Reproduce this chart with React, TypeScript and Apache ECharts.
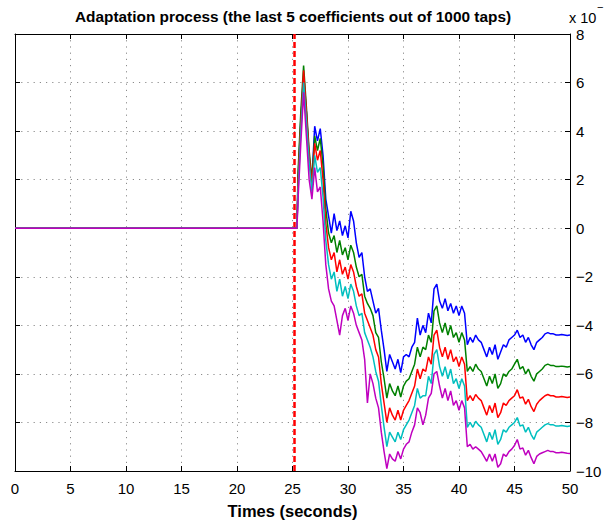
import React, { useEffect, useRef } from "react";
import * as echarts from "echarts";

// ---- data ----
const times = [
  0, 25.4,
  25.5, 25.75, 26.0, 26.25, 26.5, 26.75, 27.0, 27.25,
  27.5, 27.75, 28.0, 28.25, 28.5, 28.75, 29.0, 29.25, 29.5, 29.75,
  30.0, 30.25, 30.5, 30.75, 31.0, 31.25, 31.5, 31.75, 32.0, 32.25,
  32.5, 32.75, 33.0, 33.25, 33.5, 33.75, 34.0, 34.25, 34.5, 34.75,
  35.0, 35.25, 35.5, 35.75, 36.0, 36.25, 36.5, 36.75, 37.0, 37.25,
  37.5, 37.75, 38.0, 38.25, 38.5, 38.75, 39.0, 39.25, 39.5, 39.75,
  40.0, 40.25, 40.5, 40.75, 41.0, 41.25, 41.5, 41.75, 42.0, 42.25,
  42.5, 42.75, 43.0, 43.25, 43.5, 43.75, 44.0, 44.25, 44.5, 44.75,
  45.0, 45.25, 45.5, 45.75, 46.0, 46.25, 46.5, 46.75, 47.0, 47.25,
  47.5, 47.75, 48.0, 48.25, 48.5, 48.75, 49.0, 49.25, 49.5, 49.75,
  50.0,
];

const blueValues = [
  0, 0,
  2.0, 4.5, 6.2, 4.8, 2.8, 2.0, 4.2, 3.6,
  4.1, 3.0, 1.2, 0.5, -0.2, 0.6, -0.1, 0.3, -0.3, 0.1,
  -0.4, 0.7, 0.3, -0.6, -1.2, -1.0, -2.0, -2.6, -2.5, -3.0,
  -3.5, -3.3, -4.2, -5.0, -5.9, -5.2, -5.5, -5.8, -5.4, -5.95,
  -5.3, -5.2, -5.3, -4.9, -4.7, -3.7, -4.4, -4.0, -4.3, -3.5,
  -3.9, -2.5, -2.3, -3.0, -3.3, -2.9, -3.4, -3.1, -3.5, -3.2,
  -3.6, -3.2, -3.5, -4.8, -4.5, -4.7, -4.4, -4.6, -4.7, -5.0,
  -5.3, -4.9, -5.2, -4.8, -5.4, -5.1, -4.8, -4.9, -4.6, -4.5,
  -4.4, -4.2, -4.5, -4.4, -4.7, -4.5, -4.8, -5.0, -4.7, -4.6,
  -4.5, -4.35, -4.3, -4.35, -4.35, -4.4, -4.4, -4.38, -4.4, -4.42,
  -4.4,
];

const greenValues = [
  0, 0,
  2.3, 4.8, 6.7, 5.0, 3.2, 2.0, 3.8, 3.2,
  3.7, 2.6, 0.8, -0.2, -0.6, -0.3, -1.0, -0.5, -1.1, -0.8,
  -1.3, -0.7, -1.0, -1.6, -2.0, -1.9, -2.8, -3.1, -3.3, -3.6,
  -4.3, -4.5, -5.5, -6.2, -7.0, -6.4, -6.7, -6.9, -6.5, -6.95,
  -6.5, -6.3, -6.2, -5.9, -5.6, -4.9, -5.3, -4.9, -5.0, -4.4,
  -4.7, -3.4, -3.2, -3.9, -4.3, -3.9, -4.4, -4.0, -4.5, -4.3,
  -4.7, -4.3, -4.6, -5.9, -5.7, -5.9, -5.6, -5.8, -5.9, -6.2,
  -6.5, -6.1, -6.4, -6.0, -6.6, -6.4, -6.0, -6.1, -5.9, -5.8,
  -5.6, -5.4, -5.8, -5.7, -6.0, -5.8, -6.1, -6.3, -6.0, -5.9,
  -5.8, -5.65, -5.6, -5.65, -5.65, -5.7, -5.7, -5.68, -5.7, -5.72,
  -5.7,
];

const redValues = [
  0, 0,
  1.8, 4.3, 6.5, 4.8, 3.0, 1.8, 3.5, 2.8,
  3.2, 2.0, 0.2, -0.8, -1.3, -1.0, -1.8, -1.3, -1.9, -1.6,
  -2.1, -1.5, -1.8, -2.4, -2.8, -2.7, -3.5, -3.8, -4.1, -4.4,
  -5.0, -5.3, -6.4, -7.2, -8.0, -7.4, -7.7, -7.9, -7.5, -7.9,
  -7.5, -7.3, -7.1, -6.8, -6.5, -5.8, -6.2, -5.8, -5.9, -5.3,
  -5.6, -4.4, -4.2, -4.9, -5.3, -4.9, -5.4, -5.0, -5.5, -5.3,
  -5.7, -5.3, -5.6, -7.1, -6.9, -7.1, -6.85, -7.0, -7.1, -7.4,
  -7.7, -7.3, -7.6, -7.2, -7.8, -7.6, -7.2, -7.3, -7.1, -7.0,
  -6.9, -6.65, -7.0, -6.95, -7.25, -7.05, -7.35, -7.55, -7.25, -7.1,
  -7.0, -6.9, -6.85, -6.9, -6.9, -6.95, -6.95, -6.93, -6.95, -6.97,
  -6.95,
];

const cyanValues = [
  0, 0,
  1.5, 4.0, 6.0, 4.4, 2.7, 1.5, 3.0, 2.3,
  2.5, 1.3, -0.5, -1.5, -2.1, -1.8, -2.6, -2.1, -2.8, -2.4,
  -2.9, -2.3, -2.6, -3.2, -3.6, -3.5, -4.3, -4.6, -4.9, -5.3,
  -5.9, -6.3, -7.3, -8.2, -9.0, -8.4, -8.6, -8.8, -8.4, -8.7,
  -8.3, -8.1, -7.9, -7.6, -7.3, -6.6, -7.0, -6.9, -6.9, -6.1,
  -6.4, -5.2, -5.0, -5.7, -6.1, -5.7, -6.2, -5.8, -6.4, -6.2,
  -6.6, -6.2, -6.5, -8.2, -8.0, -8.2, -7.95, -8.1, -8.2, -8.5,
  -8.8, -8.4, -8.7, -8.3, -8.9, -8.7, -8.3, -8.4, -8.2, -8.1,
  -8.0, -7.8, -8.15, -8.1, -8.4, -8.2, -8.5, -8.7, -8.4, -8.3,
  -8.2, -8.1, -8.05, -8.1, -8.1, -8.15, -8.15, -8.13, -8.15, -8.17,
  -8.15,
];

const magentaValues = [
  0, 0,
  1.2, 3.5, 5.6, 3.8, 2.0, 1.2, 2.5, 1.5,
  1.7, 0.3, -1.5, -2.5, -3.0, -3.2, -3.8, -4.4, -3.6, -3.3,
  -3.8, -3.2, -3.5, -4.0, -4.3, -4.6, -5.4, -7.2, -6.0, -6.4,
  -7.0, -7.4, -8.4, -9.2, -9.9, -9.3, -9.5, -9.6, -9.2, -9.5,
  -9.1, -8.9, -8.8, -8.4, -8.1, -7.4, -7.6, -8.1, -7.7, -7.0,
  -6.8, -6.0, -5.9, -6.5, -7.0, -6.6, -7.1, -6.7, -7.3, -7.1,
  -7.5, -7.1, -7.4, -9.0, -8.9, -9.1, -9.0, -9.1, -9.2, -9.4,
  -9.6, -9.3, -9.6, -9.3, -9.85, -9.7, -9.3, -9.4, -9.2, -9.1,
  -8.95, -8.7, -9.1, -9.05, -9.35, -9.15, -9.45, -9.7, -9.4, -9.3,
  -9.25, -9.2, -9.15, -9.2, -9.2, -9.25, -9.25, -9.23, -9.25, -9.27,
  -9.28,
];

const seriesNames = ["coef 996", "coef 997", "coef 998", "coef 999", "coef 1000"];
const seriesValues = [blueValues, greenValues, redValues, cyanValues, magentaValues];
const seriesColors = ["#0000ff", "#008000", "#ff0000", "#00bfbf", "#bf00bf"];

const xMin = 0;
const xMax = 50;
const xStep = 5;
const yMin = -10;
const yMax = 8;
const yStep = 2;
const changeTime = 25.2;

const titleText = "Adaptation process (the last 5 coefficients out of 1000 taps)";
const xAxisTitle = "Times (seconds)";
const exponentBase = "x 10";
const exponentSign = "\u2212";

const FONT = '"Liberation Sans", Arial, Helvetica, sans-serif';

export default function App() {
  const ref = useRef<HTMLDivElement>(null);

  useEffect(() => {
    if (!ref.current) return;
    const chart = echarts.init(ref.current, undefined, { renderer: "svg" });

    const axisLine = { show: true, onZero: false, lineStyle: { color: "#000", width: 1 } };
    const axisTick = { show: true, inside: true, length: 5, lineStyle: { color: "#000", width: 1 } };
    const gridLine = { show: true, lineStyle: { color: "#8c8c8c", width: 1, type: [1.2, 5] as any } };

    const series: any[] = seriesValues.map((vals, k) => ({
      name: seriesNames[k],
      type: "line",
      showSymbol: false,
      symbol: "none",
      xAxisIndex: 0,
      yAxisIndex: 0,
      lineStyle: { color: seriesColors[k], width: 1.5 },
      itemStyle: { color: seriesColors[k] },
      data: times.map((t, i) => [t, vals[i]]),
      z: 3 + k,
    }));

    series[0].markLine = {
      silent: true,
      symbol: ["none", "none"],
      label: { show: false },
      lineStyle: { color: "#ff0000", type: [6, 3], width: 2.5 },
      data: [{ xAxis: changeTime }],
    };

    chart.setOption({
      animation: false,
      backgroundColor: "#ffffff",
      textStyle: { fontFamily: FONT },
      grid: { left: 15, right: 35, top: 34, bottom: 50, containLabel: false, outerBoundsMode: "none" },
      xAxis: [
        {
          type: "value",
          position: "bottom",
          min: xMin,
          max: xMax,
          interval: xStep,
          axisLine,
          axisTick,
          splitLine: gridLine,
          axisLabel: { color: "#000", fontSize: 15, margin: 10, fontFamily: FONT },
          name: xAxisTitle,
          nameLocation: "middle",
          nameGap: 31,
          nameTextStyle: { color: "#000", fontSize: 16.5, fontWeight: "bold", fontFamily: FONT },
        },
        {
          type: "value",
          position: "top",
          min: xMin,
          max: xMax,
          interval: xStep,
          axisLine,
          axisTick,
          splitLine: { show: false },
          axisLabel: { show: false },
        },
      ],
      yAxis: [
        {
          type: "value",
          position: "right",
          min: yMin,
          max: yMax,
          interval: yStep,
          axisLine,
          axisTick,
          splitLine: gridLine,
          axisLabel: {
            color: "#000",
            fontSize: 15,
            margin: 6,
            fontFamily: FONT,
            formatter: (v: number) => String(v).replace("-", "\u2212"),
          },
        },
        {
          type: "value",
          position: "left",
          min: yMin,
          max: yMax,
          interval: yStep,
          axisLine,
          axisTick,
          splitLine: { show: false },
          axisLabel: { show: false },
        },
      ],
      graphic: [
        {
          type: "text",
          x: 293,
          y: 16,
          style: {
            text: titleText,
            font: `bold 15.4px ${FONT}`,
            fill: "#000",
            align: "center",
            verticalAlign: "middle",
            textAlign: "center",
            textVerticalAlign: "middle",
          },
        },
        {
          type: "text",
          x: 569,
          y: 25.5,
          style: {
            text: exponentBase,
            font: `14.5px ${FONT}`,
            fill: "#000",
            align: "left",
            verticalAlign: "bottom",
            textAlign: "left",
            textVerticalAlign: "bottom",
          },
        },
        {
          type: "text",
          x: 597,
          y: 12,
          style: {
            text: exponentSign,
            font: `11px ${FONT}`,
            fill: "#000",
            align: "left",
            verticalAlign: "bottom",
            textAlign: "left",
            textVerticalAlign: "bottom",
          },
        },
      ],
      series,
    });

    return () => chart.dispose();
  }, []);

  return (
    <div
      ref={ref}
      style={{ position: "fixed", left: 0, top: 0, width: 605, height: 521, background: "#fff" }}
    />
  );
}
